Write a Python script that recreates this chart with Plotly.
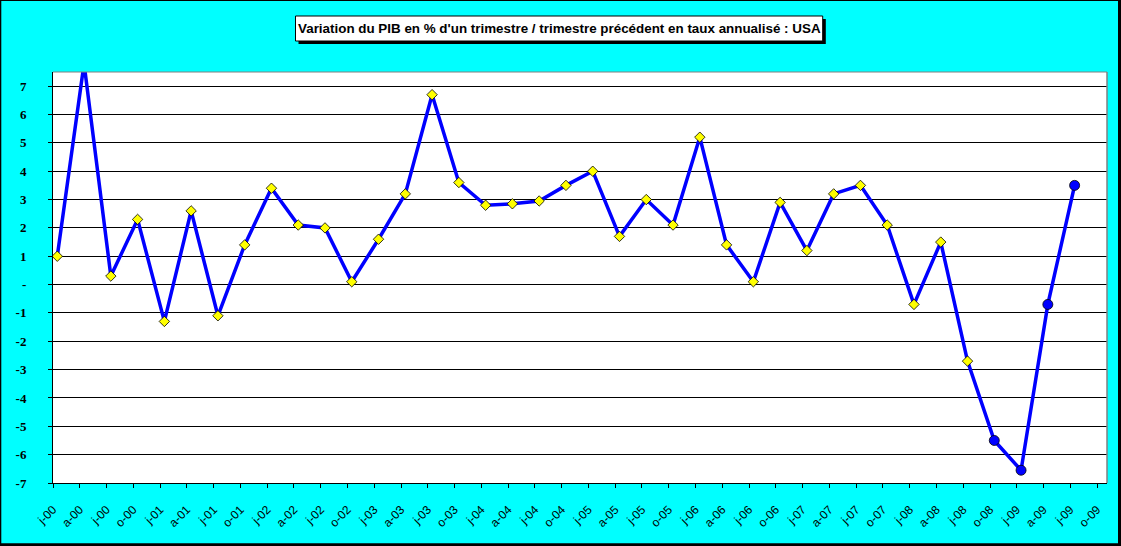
import plotly.graph_objects as go

# ---- data ----
tick_labels = [
    "j-00", "a-00", "j-00", "o-00", "j-01", "a-01", "j-01", "o-01",
    "j-02", "a-02", "j-02", "o-02", "j-03", "a-03", "j-03", "o-03",
    "j-04", "a-04", "j-04", "o-04", "j-05", "a-05", "j-05", "o-05",
    "j-06", "a-06", "j-06", "o-06", "j-07", "a-07", "j-07", "o-07",
    "j-08", "a-08", "j-08", "o-08", "j-09", "a-09", "j-09", "o-09",
]
gdp_growth = [
    1.0, 7.8, 0.3, 2.3, -1.3, 2.6, -1.1, 1.4,
    3.4, 2.1, 2.0, 0.1, 1.6, 3.2, 6.7, 3.6,
    2.8, 2.85, 2.95, 3.5, 4.0, 1.7, 3.0, 2.1,
    5.2, 1.4, 0.1, 2.9, 1.2, 3.2, 3.5, 2.1,
    -0.7, 1.5, -2.7, -5.5, -6.55, -0.7, 3.5,
]
first_circle_index = 35  # from o-08 on, points are drawn as blue circles
y_tick_values = list(range(-7, 8))
y_tick_text = ["-" if v == 0 else str(v) for v in y_tick_values]
title_text = "Variation du PIB en % d'un trimestre / trimestre précédent en taux annualisé : USA"

# ---- layout geometry (pixels) ----
FIG_W, FIG_H = 1121, 546
L, R, T, B = 53, 14, 72, 63
PW, PH = FIG_W - L - R, FIG_H - T - B


def px_x(X):
    return (X - L) / PW


def px_y(Y):
    return (FIG_H - B - Y) / PH


x_pos = [i + 0.16 for i in range(len(gdp_growth))]
symbols = ["diamond" if i < first_circle_index else "circle" for i in range(len(gdp_growth))]
colors = ["#FFFF00" if i < first_circle_index else "#0000FF" for i in range(len(gdp_growth))]
sizes = [8 if i < first_circle_index else 10 for i in range(len(gdp_growth))]

fig = go.Figure()
fig.add_trace(go.Scatter(
    x=x_pos, y=gdp_growth, mode="lines+markers",
    line=dict(color="#0000FF", width=3.5),
    marker=dict(symbol=symbols, color=colors, size=sizes, opacity=1,
                line=dict(color="#000000", width=0.8)),
    hoverinfo="y", showlegend=False,
))

shapes = [
    # outer cyan panel over black paper (black edge/shadow)
    dict(type="rect", xref="paper", yref="paper", layer="below",
         x0=px_x(1.3), x1=px_x(1118), y0=px_y(1), y1=px_y(543.3),
         fillcolor="#00FFFF", line=dict(width=0)),
    # white plot area
    dict(type="rect", xref="paper", yref="paper", layer="below",
         x0=0, x1=1, y0=0, y1=1,
         fillcolor="#FFFFFF", line=dict(width=0)),
    # top / right plot border in grey
    dict(type="line", xref="paper", yref="paper",
         x0=0, x1=1, y0=1, y1=1, line=dict(color="#808080", width=1)),
    dict(type="line", xref="paper", yref="paper",
         x0=1, x1=1, y0=0, y1=1, line=dict(color="#808080", width=1.5)),
    # title shadow + box
    dict(type="rect", xref="paper", yref="paper",
         x0=px_x(298.5), x1=px_x(825.8), y0=px_y(19), y1=px_y(44),
         fillcolor="#000000", line=dict(width=0)),
    dict(type="rect", xref="paper", yref="paper",
         x0=px_x(295.5), x1=px_x(822.7), y0=px_y(16), y1=px_y(41),
         fillcolor="#FFFFFF", line=dict(color="#000000", width=1)),
]

fig.update_layout(
    width=FIG_W, height=FIG_H,
    margin=dict(l=L, r=R, t=T, b=B, pad=0, autoexpand=False),
    paper_bgcolor="#000000", plot_bgcolor="rgba(0,0,0,0)",
    shapes=shapes,
    annotations=[dict(
        text=title_text, xref="paper", yref="paper",
        x=px_x(559), y=px_y(28.8), xanchor="center", yanchor="middle",
        showarrow=False,
        font=dict(family="Liberation Sans", size=13.4, color="#000000", weight="bold"),
    )],
    xaxis=dict(
        range=[0, 39.37], tickmode="array",
        tickvals=list(range(len(tick_labels))), ticktext=tick_labels,
        tickangle=-45, ticks="outside", ticklen=4, tickcolor="#000000",
        showline=True, linecolor="#000000", linewidth=1,
        showgrid=False, zeroline=False, automargin=False,
        tickfont=dict(family="Liberation Sans", size=12, color="#000000"),
        ticklabelstandoff=10,
    ),
    yaxis=dict(
        range=[-7, 7.5], tickmode="array",
        tickvals=y_tick_values, ticktext=y_tick_text,
        ticks="outside", ticklen=4, tickcolor="#000000",
        showline=True, linecolor="#000000", linewidth=1,
        showgrid=True, gridcolor="#000000", gridwidth=1, zeroline=False,
        automargin=False,
        tickfont=dict(family="Liberation Serif", size=13, color="#000000", weight="bold"),
        ticklabelstandoff=19,
    ),
)

fig.write_html(
    "out.html",
    config={"displayModeBar": False},
    post_script="document.body.style.margin='0';document.body.style.padding='0';"
                "document.documentElement.style.overflow='hidden';",
)
